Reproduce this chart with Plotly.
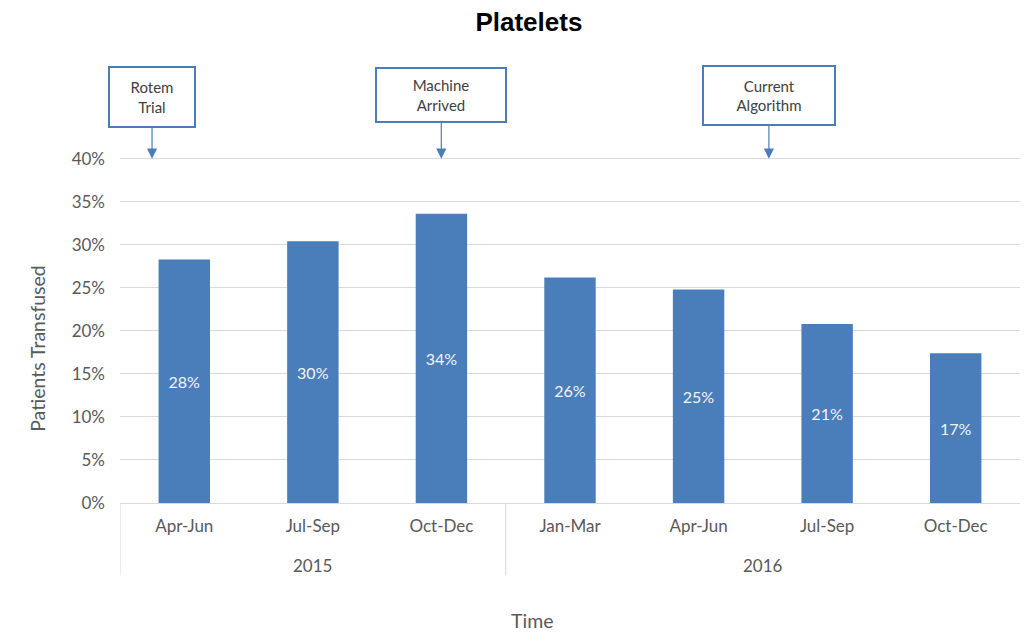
import plotly.graph_objects as go

# Share of patients receiving platelets, by quarter
years = ["2015", "2015", "2015", "2016", "2016", "2016", "2016"]
quarters = ["Apr-Jun", "Jul-Sep", "Oct-Dec", "Jan-Mar", "Apr-Jun", "Jul-Sep", "Oct-Dec"]
pct_transfused = [28.3, 30.4, 33.6, 26.2, 24.8, 20.8, 17.4]

y_ticks = [0, 5, 10, 15, 20, 25, 30, 35, 40]
y_tick_labels = ["0%", "5%", "10%", "15%", "20%", "25%", "30%", "35%", "40%"]

# Milestone callouts: label, horizontal position (fraction of plot width)
event_labels = ["Rotem<br>Trial", "Machine<br>Arrived", "Current<br>Algorithm"]
event_pos = [0.0356, 0.357, 0.721]
event_box_w = [84, 128, 130]
event_box_h = [58, 52, 57]
event_offset = [-62, -64, -63]

BAR = "#4a7ebb"
GRID = "#d9d9d9"
TXT = "#595959"
FONT = "Lato, 'Open Sans', sans-serif"

idx = list(range(len(quarters)))

fig = go.Figure(
    go.Bar(
        x=idx,
        y=pct_transfused,
        marker=dict(color=BAR, line=dict(width=0)),
        width=0.4,
        text=[f"{v:.0f}%" for v in pct_transfused],
        textposition="inside",
        insidetextanchor="middle",
        textfont=dict(color="#f4f4f4", size=16, family=FONT),
        textangle=0,
    )
)

# Year group labels and group dividers below the quarter labels
group_names = list(dict.fromkeys(years))
for g in group_names:
    members = [i for i, y in enumerate(years) if y == g]
    fig.add_annotation(
        x=sum(members) / len(members), xref="x", y=-0.18, yref="paper",
        xanchor="center", yanchor="middle", text=g, showarrow=False,
        font=dict(size=17, color=TXT, family=FONT),
    )
    fig.add_shape(
        type="line", xref="x", yref="paper",
        x0=members[0] - 0.5, x1=members[0] - 0.5, y0=0, y1=-0.209,
        line=dict(color=GRID, width=1),
    )

for lab, xp, w, h, off in zip(event_labels, event_pos, event_box_w, event_box_h, event_offset):
    fig.add_annotation(
        x=xp, xref="paper", y=40, yref="y",
        text=lab, showarrow=True,
        ax=0, ay=off,
        arrowhead=2, arrowsize=1.7, arrowwidth=1.2, arrowcolor=BAR,
        bordercolor=BAR, borderwidth=2, borderpad=0,
        width=w, height=h, bgcolor="white",
        font=dict(size=15, color="#404040", family=FONT),
    )

fig.add_annotation(
    text="Patients Transfused", textangle=-90,
    x=-0.091, xref="paper", xanchor="center",
    y=0.446, yref="paper", yanchor="middle", showarrow=False,
    font=dict(size=19.5, color=TXT, family=FONT),
)
fig.add_annotation(
    text="Time", x=0.458, xref="paper", y=-0.339, yref="paper",
    xanchor="center", yanchor="middle", showarrow=False,
    font=dict(size=19.5, color=TXT, family=FONT),
)

fig.update_layout(
    width=1029, height=632,
    margin=dict(l=120, r=9, t=157, b=129),
    paper_bgcolor="white", plot_bgcolor="white",
    showlegend=False,
    title=dict(
        text="<b>Platelets</b>", x=0.514, xref="container", xanchor="center",
        y=1 - 22 / 632, yref="container", yanchor="middle",
        font=dict(size=26, color="black", family="Liberation Sans, Arial, sans-serif"),
    ),
)

fig.update_xaxes(
    range=[-0.5, len(quarters) - 0.5],
    tickvals=idx, ticktext=quarters,
    showline=True, linecolor=GRID, linewidth=1,
    showgrid=False, zeroline=False,
    ticklabelstandoff=8,
    tickfont=dict(size=17, color=TXT, family=FONT),
)
fig.update_yaxes(
    range=[0, 40.2], tickvals=y_ticks, ticktext=y_tick_labels,
    showgrid=True, gridcolor=GRID, gridwidth=1,
    zeroline=False, showline=False,
    ticklabelstandoff=14,
    tickfont=dict(size=17, color=TXT, family=FONT),
)

fig.write_html("out.html")
